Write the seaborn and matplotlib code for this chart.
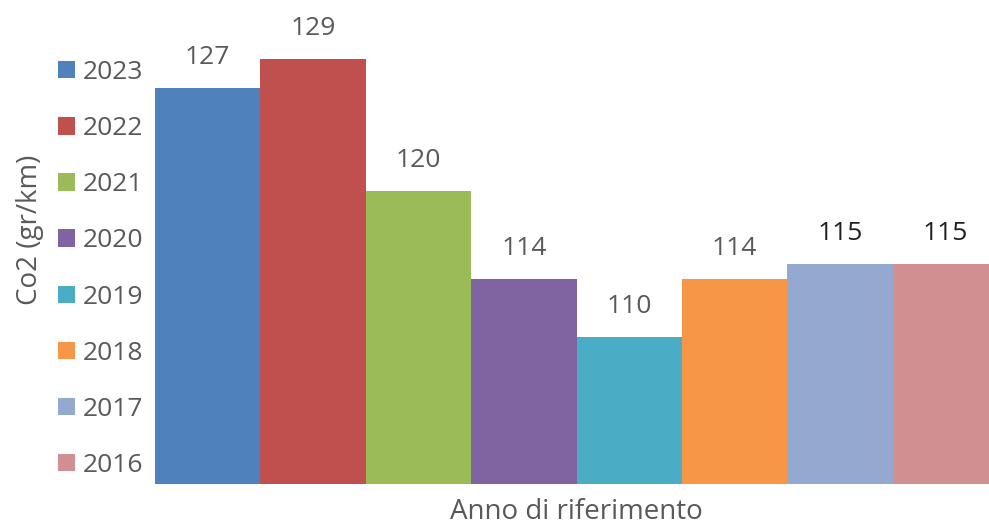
import matplotlib
matplotlib.use("Agg")
import matplotlib.pyplot as plt
import seaborn as sns
import pandas as pd

years = ["2023", "2022", "2021", "2020", "2019", "2018", "2017", "2016"]
co2 = [127, 129, 120, 114, 110, 114, 115, 115]
colors = ["#4F81BD", "#C0504D", "#9BBB59", "#8064A2", "#4BACC6", "#F79646", "#93A9CF", "#D18F91"]
label_colors = ["#595959"] * 6 + ["#1f1f1f", "#1f1f1f"]

df = pd.DataFrame({"anno": years, "co2": co2})

sns.set_theme(style="white")
plt.rcParams["font.family"] = ["Open Sans", "DejaVu Sans"]

W, H = 989, 529
fig = plt.figure(figsize=(W / 100, H / 100), dpi=100)
ax_left, ax_right, ax_bottom = 155, 989, 484
ymin, ymax = 100, 131
px_per_unit = 14.66
ax_top = ax_bottom - (ymax - ymin) * px_per_unit
ax = fig.add_axes([ax_left / W, (H - ax_bottom) / H, (ax_right - ax_left) / W, (ax_bottom - ax_top) / H])

sns.barplot(data=df, x="anno", y="co2", hue="anno", order=years, hue_order=years,
            palette=colors, width=1.0, dodge=False, saturation=1.0, legend=True,
            linewidth=0, ax=ax)

bar_w_px = 105.4
ax.set_xlim(-0.5, -0.5 + (ax_right - ax_left) / bar_w_px)
ax.set_ylim(ymin, ymax)
for s in ax.spines.values():
    s.set_visible(False)
ax.set_xticks([])
ax.set_yticks([])
ax.set_xlabel("")
ax.set_ylabel("")

fs = 19
for i, (v, c) in enumerate(zip(co2, label_colors)):
    ax.annotate(str(v), (i, v), xytext=(0, 24 * 0.72), textcoords="offset points",
                ha="center", va="baseline", fontsize=fs, color=c, annotation_clip=False)

handles, labels = ax.get_legend_handles_labels()
leg = ax.legend(handles, labels, loc="upper left", bbox_to_anchor=(58 / W, 1 - 60 / H),
                bbox_transform=fig.transFigure, frameon=False, fontsize=fs,
                handlelength=0.64, handleheight=0.64, handletextpad=0.3,
                labelspacing=1.18, borderpad=0, borderaxespad=0)
for t in leg.get_texts():
    t.set_color("#595959")

fig.text(30 / W, 1 - 230 / H, "Co2 (gr/km)", rotation=90, ha="center", va="center",
         fontsize=fs + 1, color="#595959")
fig.text(576 / W, 1 - 512 / H, "Anno di riferimento", ha="center", va="center",
         fontsize=fs + 1, color="#595959")

fig.savefig("out.png", dpi=100)
